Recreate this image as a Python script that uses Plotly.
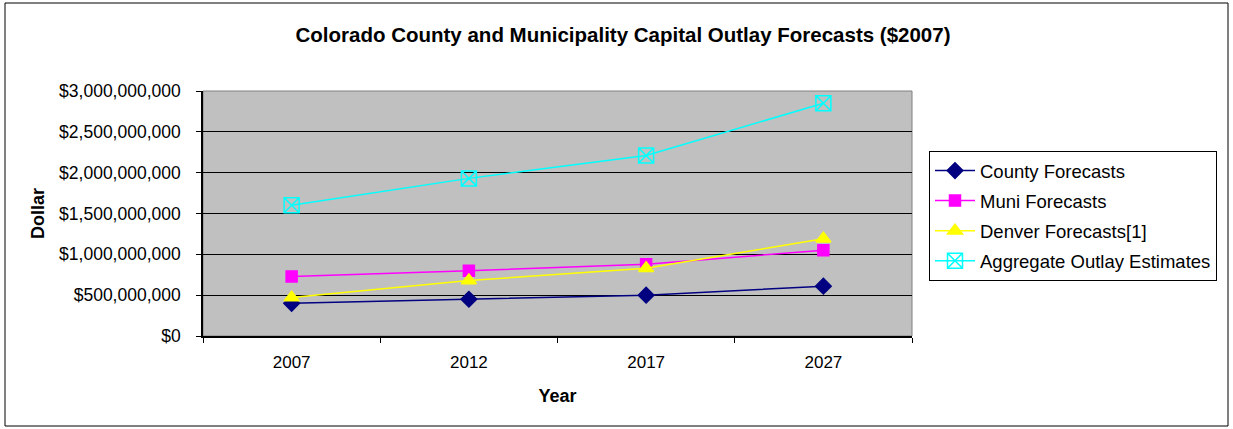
import plotly.graph_objects as go

years = ["2007", "2012", "2017", "2027"]
county = [400e6, 450e6, 500e6, 610e6]
muni = [730e6, 800e6, 880e6, 1050e6]
denver = [470e6, 680e6, 830e6, 1190e6]
aggregate = [1600e6, 1930e6, 2210e6, 2850e6]
y_ticks = [0, 500e6, 1000e6, 1500e6, 2000e6, 2500e6, 3000e6]
y_tick_labels = ["$0", "$500,000,000", "$1,000,000,000", "$1,500,000,000",
                 "$2,000,000,000", "$2,500,000,000", "$3,000,000,000"]

FONT = "Arial, Liberation Sans, sans-serif"

fig = go.Figure()
series = [
    ("County Forecasts", county, "#000080", "diamond", 12),
    ("Muni Forecasts", muni, "#FF00FF", "square", 11),
    ("Denver Forecasts[1]", denver, "#FFFF00", "triangle-up", 13),
    ("Aggregate Outlay Estimates", aggregate, "#00FFFF", "square-x-open", 15),
]
for i, (name, vals, color, sym, size) in enumerate(series):
    fig.add_trace(go.Scatter(
        x=years, y=vals, name=name, mode="lines+markers",
        line=dict(color=color, width=1.5),
        marker=dict(symbol=sym, size=size, color=color,
                    line=dict(color=color, width=1.5)),
        legendgroup=f"g{i}",
    ))

# plot area border (gray) and outer chart border
fig.add_shape(type="rect", xref="paper", yref="paper", x0=0, x1=1, y0=0, y1=1,
              line=dict(color="#808080", width=1), layer="below")
fig.add_shape(type="rect", xref="paper", yref="paper",
              x0=(5 - 203) / 709, x1=(1228 - 203) / 709,
              y0=(336 - 426) / 245, y1=(336 - 3) / 245,
              line=dict(color="#000000", width=1))

fig.update_layout(
    width=1233, height=429,
    margin=dict(l=203, r=321, t=91, b=93),
    paper_bgcolor="white", plot_bgcolor="#C0C0C0",
    font=dict(family=FONT, size=17, color="black"),
    title=dict(text="<b>Colorado County and Municipality Capital Outlay Forecasts ($2007)</b>",
               x=623 / 1233, xanchor="center", y=1 - 35 / 429, yanchor="middle",
               font=dict(size=20.5, family=FONT)),
    showlegend=True,
    legend=dict(x=(929 - 203) / 709, xanchor="left", y=(336 - 151) / 245, yanchor="top",
                bgcolor="white", bordercolor="black", borderwidth=1,
                font=dict(size=18.5, family=FONT), tracegroupgap=3,
                itemwidth=40),
    xaxis=dict(
        type="category", range=[-0.5, 3.5], tickson="boundaries",
        ticks="outside", ticklen=5, tickcolor="black", tickwidth=1,
        showline=True, linecolor="black", linewidth=1.5,
        showgrid=False, zeroline=False,
        tickfont=dict(size=17), ticklabelstandoff=10,
        title=dict(text="<b>Year</b>", font=dict(size=18), standoff=18),
    ),
    yaxis=dict(
        range=[0, 3000e6], tickvals=y_ticks, ticktext=y_tick_labels,
        ticks="outside", ticklen=5, tickcolor="black", tickwidth=1,
        showline=True, linecolor="black", linewidth=1.5,
        showgrid=True, gridcolor="black", gridwidth=1, zeroline=False,
        tickfont=dict(size=17.5), ticklabelstandoff=12,
        title=dict(text="<b>Dollar</b>", font=dict(size=18), standoff=10),
    ),
)

fig.write_html("out.html", config={"displayModeBar": False},
               post_script="document.body.style.margin='0';document.body.style.overflow='hidden';")
